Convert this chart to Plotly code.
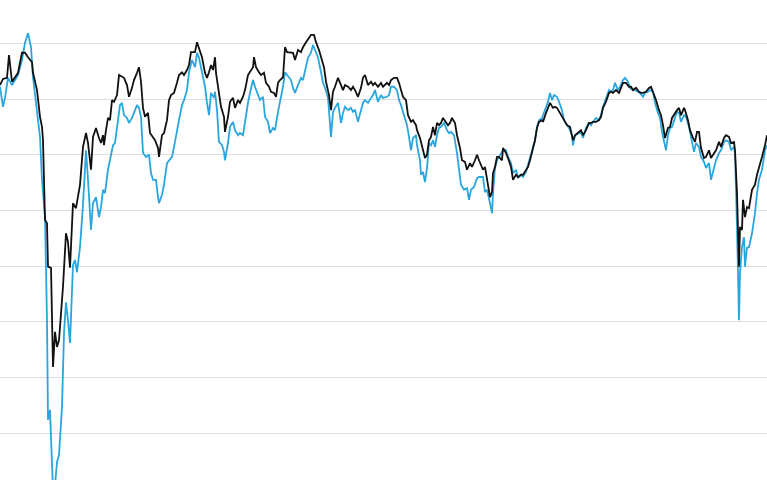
import plotly.graph_objects as go

# time index (periods) and index levels
t_black = [0, 3, 7, 9, 12, 15, 18, 22, 25, 28, 32, 33, 37, 40, 42, 43, 45, 47, 48, 51,
           52, 53, 55, 57, 59, 61, 63, 66, 68, 70, 73, 76, 78, 80, 83, 86, 88, 91, 93, 96,
           99, 101, 103, 104, 106, 108, 110, 112, 114, 117, 119, 122, 124, 127, 129, 132, 134, 137, 139, 141,
           143, 145, 148, 150, 153, 155, 158, 159, 162, 164, 167, 169, 171, 174, 177, 179, 182, 184, 187, 189,
           191, 195, 197, 199, 202, 205, 207, 209, 211, 213, 215, 216, 219, 221, 224, 225, 228, 230, 233, 235,
           238, 240, 243, 245, 248, 250, 253, 254, 256, 259, 261, 264, 266, 269, 271, 274, 276, 278, 280, 283,
           285, 287, 291, 293, 295, 298, 301, 303, 306, 309, 311, 314, 316, 319, 321, 324, 326, 329, 331, 333,
           335, 338, 341, 343, 345, 348, 351, 353, 355, 358, 361, 363, 365, 368, 371, 373, 375, 378, 381, 383,
           387, 389, 391, 394, 397, 399, 401, 403, 406, 408, 411, 413, 416, 417, 420, 422, 425, 427, 429, 431,
           433, 435, 437, 439, 441, 443, 446, 448, 450, 452, 455, 457, 460, 462, 465, 467, 470, 472, 475, 477,
           479, 483, 485, 487, 488, 490, 492, 493, 495, 497, 499, 502, 503, 506, 508, 511, 513, 516, 518, 521,
           523, 526, 528, 530, 533, 535, 537, 539, 542, 543, 546, 548, 550, 553, 555, 557, 560, 563, 565, 567,
           570, 573, 575, 579, 581, 583, 586, 589, 591, 593, 596, 599, 601, 603, 606, 609, 611, 613, 616, 619,
           621, 623, 626, 629, 631, 633, 636, 639, 641, 643, 646, 649, 651, 653, 656, 659, 661, 663, 665, 668,
           670, 672, 675, 677, 679, 681, 684, 685, 688, 690, 693, 695, 697, 699, 701, 704, 706, 709, 711, 714,
           716, 719, 721, 724, 726, 729, 731, 734, 735, 737, 739, 740, 742, 743, 745, 747, 749, 752, 755, 757,
           759, 762, 765, 767]
black = [122.5, 123.6, 123.8, 127.9, 123.1, 123.8, 124.7, 128.3, 128.3, 127.5, 126.6, 124.7, 121.6, 116.8, 115.0, 112.6, 98.3, 97.7, 89.9, 89.7,
         82.7, 71.9, 78.2, 75.5, 76.7, 81.6, 86.3, 95.9, 94.3, 89.7, 101.3, 100.4, 102.4, 104.6, 111.4, 113.9, 112.1, 107.3, 113.2, 114.8,
         113.0, 112.1, 113.5, 111.7, 114.4, 116.6, 116.2, 119.8, 119.5, 120.7, 124.3, 123.9, 123.8, 122.5, 120.4, 122.0, 123.4, 124.7, 125.7, 123.1,
         118.4, 116.8, 117.5, 113.9, 113.0, 112.6, 111.2, 109.6, 113.5, 113.9, 116.2, 119.8, 120.7, 121.1, 122.9, 124.3, 124.8, 124.3, 125.2, 126.1,
         128.4, 128.4, 130.2, 129.2, 127.5, 124.7, 123.8, 124.8, 126.1, 125.2, 127.5, 124.7, 121.3, 118.6, 116.8, 114.1, 116.8, 119.5, 120.2, 118.4,
         119.8, 119.3, 120.4, 121.6, 124.3, 124.8, 125.7, 127.5, 125.7, 124.8, 124.3, 124.7, 122.9, 122.2, 121.3, 121.1, 120.4, 122.9, 123.4, 123.9,
         129.3, 128.4, 128.4, 128.3, 127.0, 128.8, 128.4, 129.3, 130.2, 131.1, 131.5, 131.5, 130.2, 128.8, 127.4, 125.7, 123.1, 120.7, 118.0, 121.3,
         122.2, 123.8, 122.5, 121.6, 122.5, 122.2, 121.6, 122.2, 121.6, 120.4, 122.0, 123.8, 124.3, 122.5, 123.1, 122.5, 122.9, 122.2, 122.9, 122.2,
         122.9, 122.5, 123.4, 123.8, 123.8, 122.9, 121.6, 120.4, 119.8, 117.1, 115.9, 116.2, 115.3, 114.4, 113.0, 111.4, 109.4, 110.0, 112.6, 113.2,
         115.0, 113.5, 115.7, 115.3, 115.7, 116.6, 115.9, 115.3, 115.7, 116.6, 115.7, 113.5, 111.2, 109.0, 108.7, 107.3, 108.5, 107.8, 109.0, 110.0,
         109.0, 107.3, 107.8, 105.5, 104.6, 102.4, 103.3, 106.7, 107.8, 109.6, 109.6, 109.0, 111.2, 110.3, 109.4, 107.8, 105.5, 106.4, 106.0, 106.4,
         106.4, 107.3, 107.8, 109.0, 111.2, 112.6, 114.8, 115.9, 116.2, 115.9, 117.5, 118.6, 119.3, 118.4, 118.6, 118.4, 117.5, 116.6, 115.9, 115.3,
         115.0, 112.6, 113.5, 114.1, 114.4, 113.5, 114.4, 115.7, 115.7, 115.9, 115.9, 116.2, 116.8, 118.4, 119.5, 121.1, 121.3, 121.1, 121.6, 121.1,
         122.0, 122.9, 122.9, 122.2, 122.2, 121.6, 122.0, 121.3, 121.1, 121.1, 121.3, 122.0, 122.2, 121.3, 119.8, 118.0, 117.1, 115.3, 113.0, 114.8,
         115.0, 116.6, 117.5, 118.0, 118.4, 117.1, 118.4, 118.0, 116.2, 114.4, 113.0, 112.3, 114.1, 114.1, 111.2, 109.4, 109.6, 110.8, 109.4, 110.3,
         110.8, 112.3, 111.4, 113.0, 113.5, 113.2, 112.1, 112.3, 110.8, 103.1, 89.9, 97.0, 96.5, 101.9, 98.8, 100.6, 100.4, 103.7, 104.6, 106.4,
         107.6, 109.6, 111.7, 113.5]

t_blue = [0, 3, 5, 8, 12, 15, 18, 22, 25, 28, 31, 33, 37, 40, 42, 43, 45, 47, 48, 50,
          52, 53, 55, 57, 59, 62, 64, 66, 68, 70, 73, 75, 77, 80, 83, 86, 88, 91, 93, 96,
          99, 101, 103, 105, 108, 110, 113, 115, 118, 120, 122, 124, 127, 129, 132, 134, 137, 139, 141, 143,
          146, 149, 151, 153, 156, 158, 159, 162, 164, 167, 169, 172, 174, 177, 179, 182, 184, 187, 189, 192,
          195, 197, 199, 202, 205, 207, 209, 211, 214, 215, 217, 219, 222, 224, 225, 228, 230, 233, 235, 238,
          240, 243, 245, 248, 250, 253, 255, 257, 260, 263, 265, 268, 270, 273, 275, 278, 280, 283, 285, 287,
          291, 293, 295, 298, 301, 303, 305, 308, 311, 313, 315, 318, 321, 323, 325, 328, 331, 333, 335, 338,
          341, 343, 345, 348, 351, 353, 355, 358, 361, 363, 365, 368, 371, 373, 375, 378, 381, 383, 387, 389,
          391, 394, 397, 399, 401, 404, 407, 409, 411, 413, 416, 417, 420, 421, 423, 425, 427, 429, 431, 433,
          435, 437, 439, 441, 444, 447, 449, 451, 454, 457, 459, 461, 464, 467, 469, 471, 474, 477, 479, 483,
          485, 487, 490, 492, 493, 495, 497, 500, 503, 506, 508, 511, 513, 516, 518, 521, 523, 526, 528, 530,
          533, 535, 537, 539, 542, 544, 546, 548, 550, 552, 554, 557, 559, 562, 564, 567, 569, 572, 573, 575,
          579, 581, 583, 586, 589, 591, 593, 596, 599, 601, 603, 606, 609, 611, 613, 615, 618, 620, 623, 625,
          628, 630, 633, 635, 638, 640, 643, 645, 648, 650, 653, 655, 658, 660, 662, 664, 666, 668, 670, 672,
          675, 677, 679, 681, 684, 686, 689, 691, 694, 696, 699, 701, 704, 706, 709, 711, 714, 716, 719, 721,
          724, 726, 729, 731, 734, 735, 737, 739, 740, 742, 744, 745, 747, 749, 752, 755, 757, 759, 762, 765,
          767]
blue = [122.2, 118.6, 120.2, 123.8, 122.5, 123.4, 124.3, 127.0, 130.1, 131.8, 129.3, 123.9, 117.5, 113.2, 105.5, 103.1, 98.8, 80.3, 62.4, 64.2,
        54.3, 49.8, 50.7, 54.8, 56.1, 64.7, 78.0, 83.5, 80.3, 76.2, 90.2, 91.1, 88.9, 93.4, 101.0, 110.8, 105.5, 96.5, 101.3, 102.4,
        98.8, 100.6, 103.7, 103.1, 107.3, 109.0, 111.7, 112.1, 115.7, 118.9, 119.3, 117.1, 116.6, 115.7, 116.6, 117.5, 118.9, 118.4, 116.8, 110.3,
        109.6, 110.0, 106.7, 105.5, 105.5, 102.4, 101.3, 102.8, 104.6, 108.5, 109.0, 109.6, 111.4, 113.9, 116.2, 118.9, 119.8, 121.6, 124.8, 127.0,
        125.7, 128.3, 127.4, 124.8, 122.2, 119.3, 117.1, 121.1, 120.2, 121.3, 118.0, 112.3, 111.7, 110.5, 109.0, 112.1, 115.0, 115.9, 114.4, 113.5,
        113.9, 113.5, 116.2, 119.3, 121.1, 123.4, 122.2, 121.1, 119.8, 120.4, 116.8, 115.9, 113.9, 114.8, 114.4, 117.7, 119.3, 122.2, 124.8, 124.3,
        123.4, 122.0, 121.1, 122.5, 123.8, 123.4, 125.2, 127.4, 128.3, 129.7, 128.8, 127.5, 124.8, 122.9, 122.0, 120.2, 113.2, 117.7, 118.4, 119.3,
        115.7, 117.5, 118.6, 118.0, 118.4, 117.7, 118.0, 115.9, 118.0, 119.3, 119.8, 119.3, 120.2, 120.7, 121.6, 119.5, 120.7, 120.2, 120.4, 120.7,
        122.2, 122.2, 121.6, 119.8, 118.9, 117.1, 115.3, 113.2, 110.8, 113.0, 113.5, 111.7, 109.0, 106.4, 106.9, 105.1, 107.6, 112.1, 111.7, 112.6,
        111.4, 113.5, 114.8, 115.0, 115.7, 114.4, 113.9, 114.1, 113.5, 110.3, 107.8, 104.6, 103.7, 104.0, 101.9, 103.7, 104.2, 105.8, 106.0, 106.0,
        103.3, 103.7, 101.3, 99.5, 103.1, 107.6, 109.0, 110.0, 110.8, 110.8, 109.6, 108.5, 106.7, 107.3, 105.8, 106.4, 106.0, 106.9, 108.2, 109.0,
        111.2, 112.6, 115.0, 116.2, 116.6, 117.5, 118.4, 119.5, 121.1, 119.8, 120.7, 120.4, 119.5, 118.0, 116.2, 115.3, 114.8, 113.5, 111.7, 113.5,
        113.9, 114.1, 113.0, 114.8, 115.7, 115.3, 115.9, 116.6, 116.2, 117.1, 118.6, 120.2, 121.6, 121.3, 121.6, 122.9, 121.6, 122.2, 123.4, 123.8,
        123.1, 122.0, 121.6, 121.6, 121.3, 121.1, 120.4, 121.1, 121.3, 121.6, 121.3, 119.3, 117.5, 116.6, 114.1, 112.1, 110.8, 113.5, 114.8, 115.0,
        116.8, 117.7, 117.5, 115.9, 117.1, 116.8, 115.0, 113.2, 110.5, 112.1, 111.4, 109.6, 108.7, 107.6, 108.5, 105.5, 107.8, 109.0, 110.3, 110.8,
        112.3, 112.6, 112.3, 110.8, 111.4, 110.3, 97.0, 80.3, 88.8, 93.4, 95.2, 89.9, 93.3, 93.4, 95.9, 99.5, 103.1, 105.5, 107.3, 110.8,
        111.7]

grid_levels = [60, 70, 80, 90, 100, 110, 120, 130]

fig = go.Figure()
fig.add_trace(go.Scatter(x=t_blue, y=blue, mode="lines",
                         line=dict(color="#2aa6df", width=1.8), name="Series B"))
fig.add_trace(go.Scatter(x=t_black, y=black, mode="lines",
                         line=dict(color="#111111", width=1.8), name="Series A"))

fig.update_layout(
    width=767, height=480,
    margin=dict(l=0, r=0, t=0, b=0),
    paper_bgcolor="white", plot_bgcolor="white",
    showlegend=False,
    xaxis=dict(range=[0, 767], showgrid=False, zeroline=False, showticklabels=False,
               showline=False, ticks=""),
    yaxis=dict(range=[51.61, 137.77], tickmode="array", tickvals=grid_levels,
               showgrid=True, gridcolor="#dedede", gridwidth=1, zeroline=False,
               showticklabels=False, showline=False, ticks=""),
)

fig.write_html(
    "out.html",
    config={"displayModeBar": False},
    post_script="document.body.style.margin='0';document.body.style.padding='0';",
)
